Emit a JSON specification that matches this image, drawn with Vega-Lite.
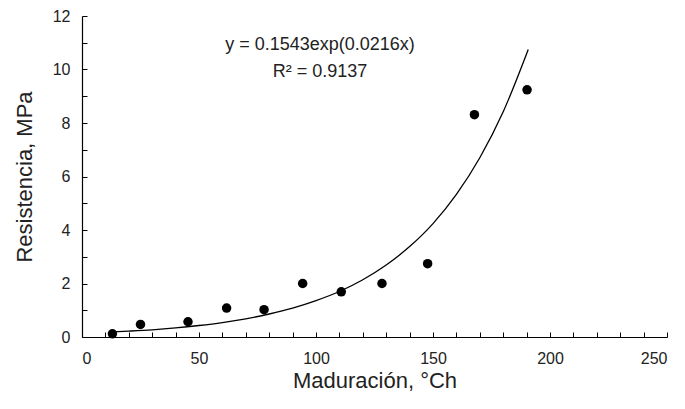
{
  "$schema": "https://vega.github.io/schema/vega-lite/v6.json",
  "width": 585,
  "height": 321,
  "autosize": "none",
  "padding": {"left": 82, "top": 16, "right": 18, "bottom": 72},
  "background": "white",
  "config": {
    "view": {"stroke": null},
    "font": "'Liberation Sans', Arial, sans-serif",
    "axis": {
      "grid": false,
      "domainColor": "#000",
      "domainWidth": 1.2,
      "tickColor": "#000",
      "tickWidth": 1,
      "tickSize": -5,
      "labelColor": "#222",
      "titleColor": "#222",
      "labelFontSize": 16,
      "titleFontSize": 22,
      "titleFontWeight": "normal",
      "labelOverlap": false,
      "labelSeparation": 0
    }
  },
  "datasets": {
    "points": [
      {"x": 13.0, "y": 0.12},
      {"x": 25.0, "y": 0.47},
      {"x": 45.3, "y": 0.57},
      {"x": 61.8, "y": 1.08},
      {"x": 77.8, "y": 1.02},
      {"x": 94.3, "y": 2.0},
      {"x": 110.8, "y": 1.69},
      {"x": 128.2, "y": 2.0},
      {"x": 147.7, "y": 2.74},
      {"x": 167.7, "y": 8.31},
      {"x": 190.2, "y": 9.24}
    ],
    "curve": [
      {"x": 13, "y": 0.19},
      {"x": 20, "y": 0.22},
      {"x": 30, "y": 0.27},
      {"x": 40, "y": 0.34},
      {"x": 50, "y": 0.43},
      {"x": 60, "y": 0.54},
      {"x": 70, "y": 0.68},
      {"x": 80, "y": 0.86},
      {"x": 90, "y": 1.08},
      {"x": 100, "y": 1.36},
      {"x": 110, "y": 1.7},
      {"x": 120, "y": 2.14},
      {"x": 130, "y": 2.69},
      {"x": 140, "y": 3.38},
      {"x": 150, "y": 4.24},
      {"x": 160, "y": 5.33},
      {"x": 170, "y": 6.7},
      {"x": 180, "y": 8.42},
      {"x": 190.7, "y": 10.75}
    ],
    "labels": [
      {"x": 101.7, "y": 10.9, "text": "y = 0.1543exp(0.0216x)"},
      {"x": 101.7, "y": 9.9, "text": "R² = 0.9137"}
    ]
  },
  "encoding": {
    "x": {
      "field": "x", "type": "quantitative",
      "scale": {"domain": [0, 250], "nice": false},
      "axis": {
        "title": "Maduración, °Ch",
        "values": [0,10,20,30,40,50,60,70,80,90,100,110,120,130,140,150,160,170,180,190,200,210,220,230,240,250],
        "labelExpr": "datum.value % 50 == 0 ? datum.label : ''",
        "labelOverlap": false,
        "labelPadding": 18,
        "titlePadding": 4
      }
    },
    "y": {
      "field": "y", "type": "quantitative",
      "scale": {"domain": [0, 12], "nice": false},
      "axis": {
        "title": "Resistencia, MPa",
        "values": [0,1,2,3,4,5,6,7,8,9,10,11,12],
        "labelExpr": "datum.value % 2 == 0 ? datum.label : ''",
        "labelOverlap": false,
        "labelPadding": 17,
        "titlePadding": 16
      }
    }
  },
  "layer": [
    {
      "data": {"name": "curve"},
      "mark": {"type": "line", "color": "#000", "strokeWidth": 1.3, "interpolate": "monotone"}
    },
    {
      "data": {"name": "points"},
      "mark": {"type": "circle", "color": "#000", "opacity": 1, "size": 90}
    },
    {
      "data": {"name": "labels"},
      "mark": {"type": "text", "fontSize": 18, "color": "#222", "align": "center", "baseline": "middle"},
      "encoding": {
        "text": {"field": "text"}
      }
    }
  ]
}
